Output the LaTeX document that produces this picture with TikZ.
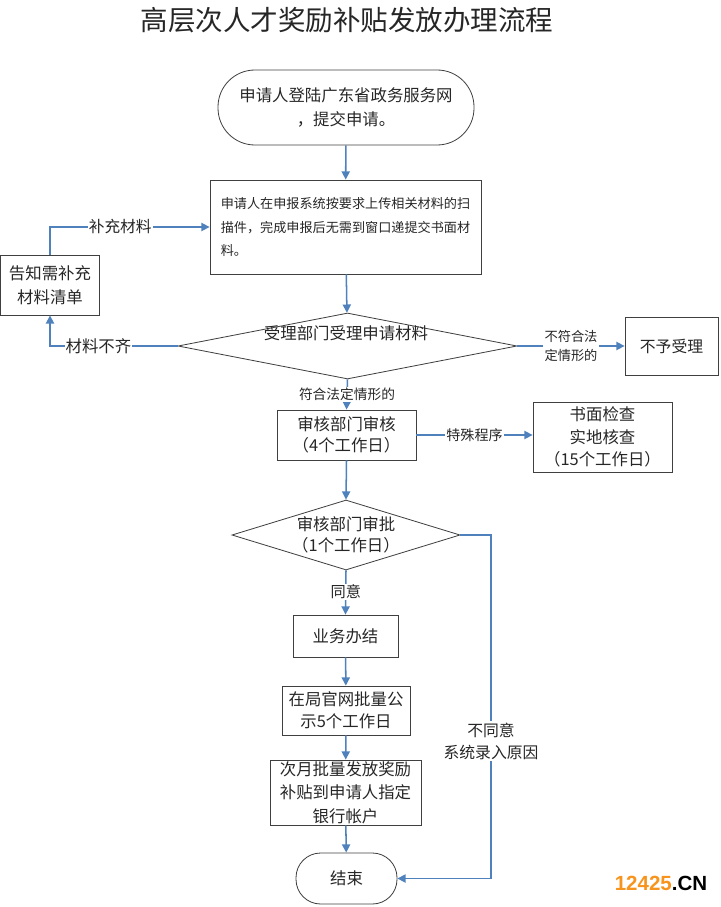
\documentclass[tikz,border=0pt]{standalone}
\usepackage{fontspec}
\setmainfont{Noto Sans CJK SC}
\newfontfamily\wmfont{Liberation Sans}
\usetikzlibrary{shapes.geometric,arrows.meta}
\definecolor{flowblue}{HTML}{4F81BD}
\definecolor{wmorange}{HTML}{F7941D}
\newcommand{\pxu}{0.03cm}
\begin{document}
\begin{tikzpicture}[x=0.03cm, y=-0.03cm,
    box/.style={draw=black!75, line width=0.7pt, rectangle, inner sep=1pt, align=center, text=black!85, font=\fontsize{14pt}{20pt}\selectfont},
    term/.style={box, rounded corners=#1},
    decide/.style={draw=black!75, line width=0.7pt, diamond, inner sep=0pt, align=center, text=black!85, font=\fontsize{14pt}{19pt}\selectfont},
    flow/.style={draw=flowblue, line width=1.3pt, -{Triangle[width=7pt,length=7pt]}},
    tag/.style={fill=white, inner sep=1pt, align=center, text=black!85, font=\fontsize{12pt}{16pt}\selectfont}]
        \useasboundingbox (0,0) rectangle (720,907);

        \node[text=black!85, font=\fontsize{23.5pt}{26pt}\selectfont] (title) at (347,20) {高层次人才奖励补贴发放办理流程};

        \node[term=31.5pt, minimum width=256*\pxu, minimum height=75*\pxu] (apply) at (346,107.5) {申请人登陆广东省政务服务网\\，提交申请。};
        \node[box, minimum width=271*\pxu, minimum height=94*\pxu, align=left, font=\fontsize{11.2pt}{20pt}\selectfont] (upload) at (345.5,227) {申请人在申报系统按要求上传相关材料的扫\\描件，完成申报后无需到窗口递提交书面材\\料。};
        \node[box, minimum width=99*\pxu, minimum height=60*\pxu, font=\fontsize{14pt}{20.5pt}\selectfont] (notice) at (50,285) {告知需补充\\材料清单};
        \node[decide, aspect=5.1, minimum width=339*\pxu, minimum height=66*\pxu] (accept) at (347.5,346) {};
        \node[text=black!85, font=\fontsize{14pt}{19pt}\selectfont] (accepttxt) at (346,333) {受理部门受理申请材料};
        \node[box, minimum width=93*\pxu, minimum height=58*\pxu, font=\fontsize{13.5pt}{19pt}\selectfont] (reject) at (671.5,346) {不予受理};
        \node[box, minimum width=139*\pxu, minimum height=50*\pxu, font=\fontsize{14pt}{18pt}\selectfont] (review) at (346.5,435) {审核部门审核\\（4个工作日）};
        \node[box, minimum width=139*\pxu, minimum height=70*\pxu, font=\fontsize{14pt}{19pt}\selectfont] (special) at (602.5,437) {书面检查\\实地核查\\（15个工作日）};
        \node[decide, aspect=3.3, minimum width=228*\pxu, minimum height=70*\pxu, font=\fontsize{14pt}{18pt}\selectfont] (approve) at (346,535) {审核部门审批\\（1个工作日）};
        \node[box, minimum width=105*\pxu, minimum height=42*\pxu] (done) at (345.5,636) {业务办结};
        \node[box, minimum width=128*\pxu, minimum height=49*\pxu, font=\fontsize{14pt}{18.8pt}\selectfont] (publish) at (346,710.5) {在局官网批量公\\示5个工作日};
        \node[box, minimum width=151*\pxu, minimum height=65*\pxu] (pay) at (345.5,792.5) {次月批量发放奖励\\补贴到申请人指定\\银行帐户};
        \node[term=21pt, minimum width=101*\pxu, minimum height=51*\pxu] (finish) at (346.5,878.5) {结束};
        \coordinate (nobend) at (491,535);

        \draw[flow] (apply) -- (upload);
        \draw[flow] (upload) -- (accept);
        \draw[flow] (accept.west) -| node[tag, pos=0.31, font=\fontsize{14pt}{16pt}\selectfont] {材料不齐} (notice.south);
        \draw[flow] (notice.north) |- node[tag, pos=0.72, font=\fontsize{13.4pt}{16pt}\selectfont] {补充材料} (upload.west);
        \draw[flow] (accept.east) -- node[tag, pos=0.5, font=\fontsize{11.3pt}{15.5pt}\selectfont] {不符合法\\定情形的} (reject.west);
        \draw[flow] (accept.south) -- node[tag, pos=0.5, font=\fontsize{11.7pt}{14pt}\selectfont] {符合法定情形的} (review.north);
        \draw[flow] (review.east) -- node[tag, pos=0.5] {特殊程序} (review.east -| special.west);
        \draw[flow] (review.south) -- (approve.north);
        \draw[flow] (approve.east) -- (nobend) |- node[tag, pos=0.3, font=\fontsize{13.5pt}{19pt}\selectfont] {不同意\\系统录入原因} (finish.east);
        \draw[flow] (approve.south) -- node[tag, pos=0.49, font=\fontsize{13pt}{15pt}\selectfont] {同意} (done.north);
        \draw[flow] (done) -- (publish);
        \draw[flow] (publish) -- (pay);
        \draw[flow] (pay) -- (finish);

        \node[font=\wmfont\bfseries\fontsize{17.5pt}{20pt}\selectfont, inner sep=0pt] (mark) at (661,883) {\textcolor{wmorange}{12425}.CN};
\end{tikzpicture}
\end{document}
